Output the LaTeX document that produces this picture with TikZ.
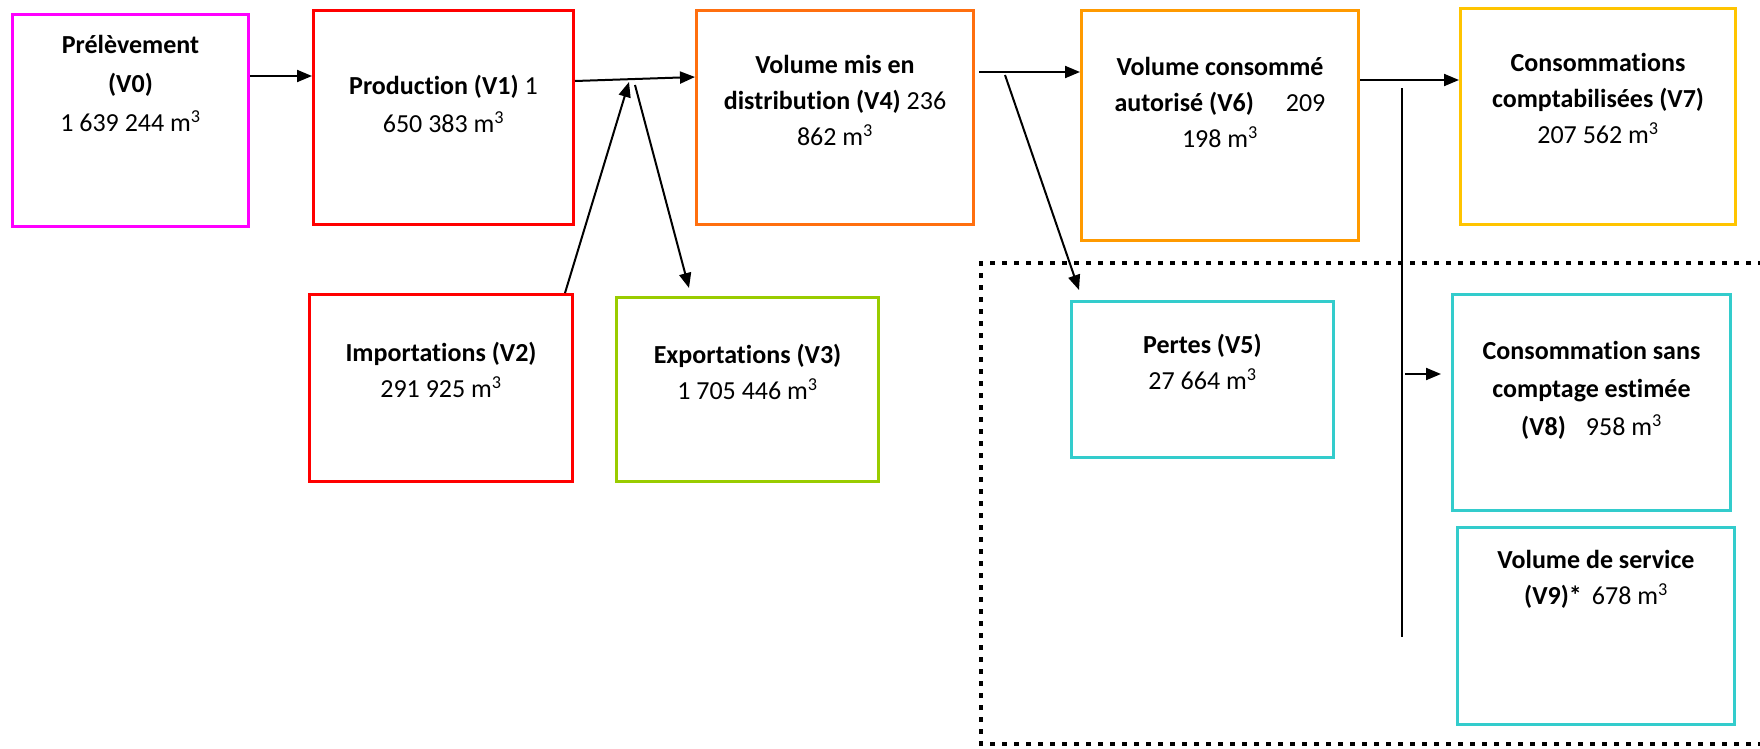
\documentclass[tikz,border=0pt]{standalone}
\usepackage{fontspec}
\setmainfont{Carlito}[Ligatures=NoCommon]
\usepackage{xcolor}
\usepackage{tikz}
\usetikzlibrary{arrows.meta, positioning, calc}
\definecolor{prelmagenta}{HTML}{FF00FF}
\definecolor{prodred}{HTML}{FF0000}
\definecolor{distorange}{HTML}{FF6F0F}
\definecolor{consorange}{HTML}{FF9A00}
\definecolor{comptyellow}{HTML}{FFC400}
\definecolor{exportgreen}{HTML}{99CC00}
\definecolor{pertecyan}{HTML}{33CCCC}
% box content: width, height, top padding, text
\newcommand{\volbox}[4]{\begin{minipage}[t][#2pt][t]{#1pt}\centering\vspace*{#3pt}\vbox{}#4\end{minipage}}
\newcommand{\mcube}{~m\textsuperscript{3}}

\begin{document}
\begin{tikzpicture}[x=1pt, y=-1pt,
    vol/.style={draw=#1, line width=3pt, inner sep=0pt, anchor=north west, font=\fontsize{26}{36}\selectfont},
    fleche/.style={-{Triangle[length=15pt,width=12pt]}, line width=2pt}]
    \useasboundingbox (0,0) rectangle (1760,748);

    % zone pointillee (pertes et consommations non comptees)
    \draw[line width=4.7pt, dash pattern=on 4.7pt off 7.3pt] (1775,263) -- (981,263) -- (981,744) -- (1775,744);

    % ligne du haut
    \node[vol=prelmagenta] (v0) at (11,13) {\volbox{236}{212}{3}{\textbf{Prélèvement}\\[3pt]\textbf{(V0)}\\[3pt]1 639 244\mcube}};
    \node[vol=prodred] (v1) at (312,9) {\volbox{260}{214}{48}{\textbf{Production (V1)} 1\\[2pt]650 383\mcube}};
    \node[vol=distorange] (v4) at (695,9) {\volbox{277}{214}{27}{\textbf{Volume mis en}\\\textbf{distribution (V4)} 236\\862\mcube}};
    \node[vol=consorange] (v6) at (1080,9) {\volbox{277}{230}{29}{\textbf{Volume consommé}\\\textbf{autorisé (V6)}\hspace{32pt}209\\198\mcube}};
    \node[vol=comptyellow] (v7) at (1459,7) {\volbox{275}{216}{27}{\textbf{Consommations}\\\textbf{comptabilisées (V7)}\\207 562\mcube}};

    % ligne du bas
    \node[vol=prodred] (v2) at (308,293) {\volbox{263}{187}{31}{\textbf{Importations (V2)}\\291 925\mcube}};
    \node[vol=exportgreen] (v3) at (615,296) {\volbox{262}{184}{30}{\textbf{Exportations (V3)}\\1 705 446\mcube}};
    \node[vol=pertecyan] (v5) at (1070,300) {\volbox{262}{156}{16}{\textbf{Pertes (V5)}\\27 664\mcube}};
    \node[vol=pertecyan] (v8) at (1451,293) {\volbox{278}{216}{29}{\textbf{Consommation sans}\\[2pt]\textbf{comptage estimée}\\[2pt]\textbf{(V8)}\hspace{20pt}958\mcube}};
    \node[vol=pertecyan] (v9) at (1456,526) {\volbox{277}{197}{5}{\textbf{Volume de service}\\\textbf{(V9)*}\hspace{10pt}678\mcube}};

    % points de depart des fleches
    \coordinate (vin) at (629,82);
    \coordinate (vout) at (635,85);
    \coordinate (vloss) at (1005,75);
    \coordinate (bustop) at (1402,88);
    \coordinate (busbot) at (1402,637);
    \coordinate (busv8) at (1405,374);

    \draw[fleche] ($(v0.north east)+(0,63)$) -- ($(v1.north west)+(0,67)$);
    \draw[fleche] ($(v1.north east)+(0,72)$) -- ($(v4.north west)+(0,68)$);
    \draw[fleche] ($(v2.north west)+(257,0)$) -- (vin);
    \draw[fleche] (vout) -- ($(v3.north west)+(74,-8)$);
    \draw[fleche] ($(v4.north east)+(4,63)$) -- ($(v6.north west)+(0,63)$);
    \draw[fleche] (vloss) -- ($(v5.north west)+(9,-10)$);
    \draw[fleche] ($(v6.north east)+(0,71)$) -- ($(v7.north west)+(0,73)$);
    \draw[line width=2pt] (bustop) -- (busbot);
    \draw[fleche] (busv8) -- ($(v8.north west)+(-10,81)$);
\end{tikzpicture}
\end{document}
